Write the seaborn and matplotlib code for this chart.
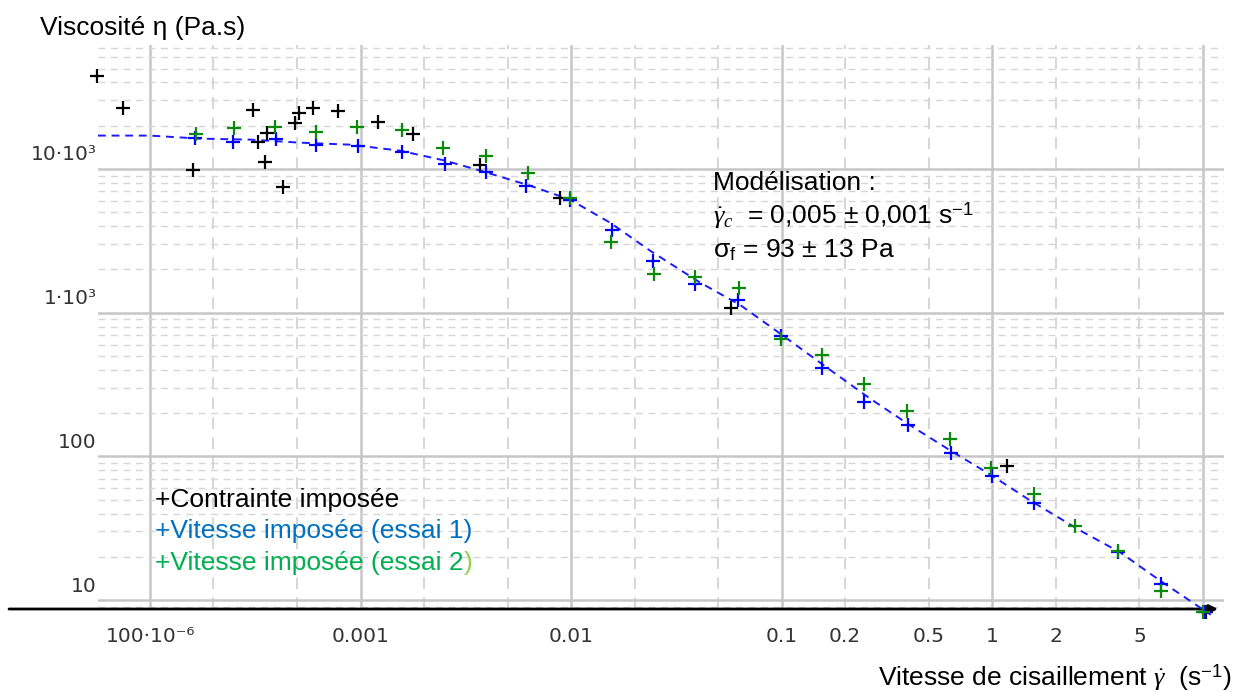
import numpy as np
import pandas as pd
import matplotlib
matplotlib.use('Agg')
import matplotlib.pyplot as plt
import matplotlib.ticker as mticker
from matplotlib.transforms import ScaledTranslation
import seaborn as sns

# Contrainte imposée (noir)
x_contrainte = [5.6e-5, 7.4e-5, 1.60e-4, 3.08e-4, 3.26e-4, 3.50e-4, 3.60e-4, 4.28e-4, 4.89e-4,
                5.10e-4, 5.94e-4, 7.82e-4, 1.21e-3, 1.77e-3, 3.70e-3, 8.87e-3, 0.0575, 1.17, 10.3]
eta_contrainte = [44600, 26700, 9890, 25900, 15500, 11200, 17900, 7540, 21000,
                  24700, 26700, 25500, 21300, 17600, 10700, 6310, 1080, 86, 8.3]

# Vitesse imposée (essai 1, bleu)
x_essai1 = [1.64e-4, 2.48e-4, 3.97e-4, 6.15e-4, 9.73e-4, 1.57e-3, 2.52e-3, 3.95e-3, 6.11e-3,
            9.89e-3, 0.0157, 0.0245, 0.0388, 0.0621, 0.0995, 0.156, 0.247, 0.399, 0.638,
            1.0, 1.58, 3.97, 6.35, 10.2]
eta_essai1 = [16520, 15490, 16260, 14760, 14520, 13190, 10890, 9570, 7650,
              6110, 3790, 2300, 1592, 1231, 692, 414, 240, 164, 106,
              73.5, 47.6, 21.7, 13.0, 8.2]

# Vitesse imposée (essai 2, vert)
x_essai2 = [1.65e-4, 2.51e-4, 3.92e-4, 6.15e-4, 9.62e-4, 1.57e-3, 2.47e-3, 3.95e-3, 6.25e-3,
            9.89e-3, 0.0155, 0.0248, 0.0388, 0.0628, 0.0995, 0.156, 0.247, 0.395, 0.632,
            0.989, 1.58, 2.48, 3.97, 6.35, 10.0]
eta_essai2 = [17620, 19360, 19680, 18200, 19680, 18750, 14060, 12390, 9420,
              6310, 3120, 1867, 1782, 1493, 659, 511, 321, 208, 131,
              83.4, 55.0, 33.0, 22.1, 11.6, 8.2]

# Modélisation (courbe pointillée)
x_modele = [5.66e-5, 1e-4, 1.73e-4, 2.99e-4, 5.16e-4, 8.91e-4, 1.54e-3, 2.52e-3, 3.70e-3,
            6.38e-3, 9.89e-3, 0.0153, 0.0237, 0.0410, 0.0635, 0.0984, 0.152, 0.263, 0.408,
            0.631, 0.978, 1.516, 2.62, 4.06, 6.28, 10.9]
eta_modele = [17070, 17070, 16250, 16000, 15240, 14760, 13400, 11430, 9730,
              7650, 6110, 4230, 2700, 1617, 1130, 714, 449, 252, 164,
              110, 74.6, 49.2, 30.4, 21.4, 13.6, 7.9]

# graduations
x_major = [1e-4, 1e-3, 1e-2, 1e-1, 1, 10]
x_major_labels = ['100·10⁻⁶', '0.001', '0.01', '0.1', '1', '']
x_minor = [2e-4, 5e-4, 2e-3, 5e-3, 2e-2, 5e-2, 0.2, 0.5, 2, 5]
x_minor_labels = ['', '', '', '', '', '', '0.2', '0.5', '2', '5']
y_major = [10, 100, 1e3, 1e4]
y_major_labels = ['10', '100', '1·10³', '10·10³']

sns.set_style('white')
plt.rcParams['font.family'] = ['Liberation Sans', 'DejaVu Sans']
plt.rcParams['text.color'] = 'black'
plt.rcParams['mathtext.fontset'] = 'custom'
plt.rcParams['mathtext.rm'] = 'Liberation Sans'
plt.rcParams['mathtext.it'] = 'Liberation Serif:italic'

W, H = 1236, 692
fig = plt.figure(figsize=(W / 100, H / 100), dpi=100)
ax = fig.add_axes([98 / W, 1 - 609 / H, (1224 - 98) / W, (609 - 45) / H])
ax.set_xscale('log')
ax.set_yscale('log')
ax.set_xlim(5.66e-5, 12.6)
ax.set_ylim(8.66, 72900)

# grille
ax.xaxis.set_major_locator(mticker.FixedLocator(x_major))
ax.xaxis.set_major_formatter(mticker.FixedFormatter(x_major_labels))
ax.xaxis.set_minor_locator(mticker.FixedLocator(x_minor))
ax.xaxis.set_minor_formatter(mticker.FixedFormatter(x_minor_labels))
ax.yaxis.set_major_locator(mticker.FixedLocator(y_major))
ax.yaxis.set_major_formatter(mticker.FixedFormatter(y_major_labels))
ax.yaxis.set_minor_locator(mticker.LogLocator(base=10, subs=np.arange(2, 10)))
ax.yaxis.set_minor_formatter(mticker.NullFormatter())

ax.grid(which='major', color='#c6c6c6', lw=1.8, ls='-')
ax.grid(which='minor', axis='y', color='#d6d6d6', lw=1.0, ls=(0, (5, 4)))
ax.grid(which='minor', axis='x', color='#d0d0d0', lw=1.2, ls=(0, (7, 5)))
ax.set_axisbelow(True)

ax.tick_params(axis='x', which='both', direction='out', length=3, width=1.2, color='black',
               pad=10, labelsize=14.5, labelcolor='#333333', labelfontfamily='DejaVu Sans')
ax.tick_params(axis='y', which='both', length=0, pad=1, labelsize=14.5,
               labelcolor='#333333', labelfontfamily='DejaVu Sans')
for s in ['left', 'top', 'right', 'bottom']:
    ax.spines[s].set_visible(False)

# axe horizontal avec flèche
ax.annotate('', xy=((1218 - 98) / 1126, 0), xytext=((9 - 98) / 1126, 0),
            xycoords='axes fraction', textcoords='axes fraction', annotation_clip=False,
            arrowprops=dict(arrowstyle='-|>,head_length=0.5,head_width=0.25',
                            color='black', lw=2, shrinkA=0, shrinkB=0))

# courbe modèle
sns.lineplot(x=x_modele, y=eta_modele, ax=ax, sort=False, estimator=None, color='#1a1aff',
             lw=1.4, linestyle=(0, (4, 3)), zorder=3, clip_on=False)

# mesures
sns.scatterplot(x=x_contrainte, y=eta_contrainte, ax=ax, marker='+', s=90, color='black',
                linewidth=1.6, zorder=4, clip_on=False)
sns.scatterplot(x=x_essai1, y=eta_essai1, ax=ax, marker='+', s=90, color='#0000ff',
                linewidth=1.6, zorder=5, clip_on=False)
sns.scatterplot(x=x_essai2, y=eta_essai2, ax=ax, marker='+', s=90, color='#0a8a0a',
                linewidth=1.6, zorder=5, clip_on=False)
ax.set_xlabel('')
ax.set_ylabel('')

# textes
fig.text(40 / W, 1 - 28 / H, 'Viscosité η (Pa.s)', fontsize=19, va='center', ha='left')
fig.text(1232 / W, 1 - 678 / H, r'Vitesse de cisaillement $\dot{\gamma}$  (s$^{-1}$)',
         fontsize=19, va='center', ha='right')

fig.text(713 / W, 1 - 183 / H, 'Modélisation :', fontsize=19, va='center')
fig.text(713 / W, 1 - 216 / H, r'$\dot{\gamma}_{c}$  = 0,005 ± 0,001 s$^{-1}$', fontsize=19,
         va='center')
fig.text(713 / W, 1 - 250 / H, r'σ$_{\mathrm{f}}$ = 93 ± 13 Pa', fontsize=19, va='center')

fig.text(155 / W, 1 - 500 / H, '+Contrainte imposée', fontsize=19, va='center', color='black')
fig.text(155 / W, 1 - 531 / H, '+Vitesse imposée (essai 1)', fontsize=19, va='center',
         color='#0070c0')
t2 = fig.text(155 / W, 1 - 563 / H, '+Vitesse imposée (essai 2', fontsize=19, va='center',
              color='#00b050')

fig.canvas.draw()
bb = t2.get_window_extent()
fig.text(bb.x1 / W, 1 - 563 / H, ')', fontsize=19, va='center', color='#92d050')

# étiquettes de l'axe y au-dessus des lignes
off = ScaledTranslation(0, 16 / 100, fig.dpi_scale_trans)
for tk in ax.yaxis.get_major_ticks():
    tk.label1.set_transform(tk.label1.get_transform() + off)

fig.savefig('out.png', dpi=100, facecolor='white')
